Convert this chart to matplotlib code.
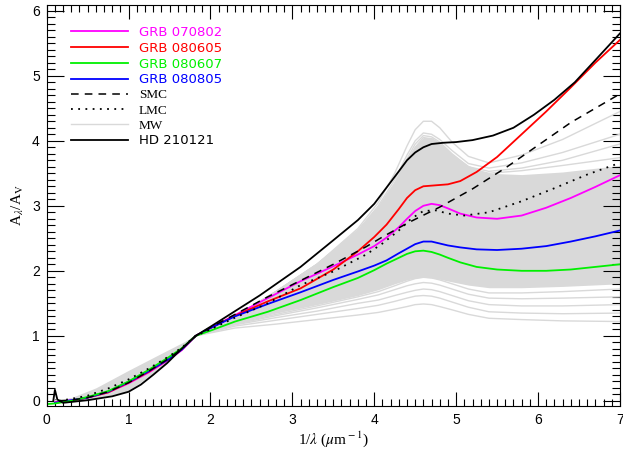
import numpy as np
import matplotlib
matplotlib.use('Agg')
import matplotlib.pyplot as plt
from matplotlib.ticker import MultipleLocator

# x grid shared by the GRB curves (1/lambda, micron^-1)
x_grb = [0.0, 0.1, 0.3, 0.5, 0.75, 1.0, 1.25, 1.5, 1.65, 1.82, 2.0, 2.3, 2.7, 3.1, 3.5, 3.8,
         4.0, 4.15, 4.3, 4.4, 4.5, 4.6, 4.7, 4.8, 4.9, 5.05, 5.25, 5.5, 5.8, 6.1, 6.4, 6.7, 7.0]
nan = np.nan
grb_070802 = [nan, -0.02, 0.01, 0.05, 0.13, 0.27, 0.44, 0.64, 0.78, 1.0, 1.12, 1.32, 1.58, 1.84,
              2.07, 2.25, 2.38, 2.51, 2.67, 2.8, 2.92, 3.0, 3.03, 3.01, 2.96, 2.88, 2.82, 2.8,
              2.85, 2.97, 3.12, 3.29, 3.47]
grb_080605 = [nan, -0.03, 0.0, 0.05, 0.13, 0.28, 0.45, 0.65, 0.79, 1.0, 1.12, 1.31, 1.53, 1.73,
              2.02, 2.3, 2.52, 2.71, 2.95, 3.12, 3.24, 3.3, 3.31, 3.32, 3.33, 3.38, 3.52, 3.75,
              4.1, 4.45, 4.82, 5.2, 5.55]
grb_080607 = [-0.05, -0.04, 0.0, 0.06, 0.15, 0.3, 0.48, 0.68, 0.81, 1.0, 1.08, 1.22, 1.37, 1.55,
              1.75, 1.89, 2.01, 2.11, 2.2, 2.26, 2.3, 2.31, 2.29, 2.25, 2.2, 2.13, 2.06, 2.02,
              2.0, 2.0, 2.02, 2.06, 2.1]
grb_080805 = [nan, -0.03, 0.01, 0.05, 0.14, 0.29, 0.46, 0.65, 0.79, 1.0, 1.12, 1.3, 1.49, 1.67,
              1.86, 1.99, 2.08, 2.16, 2.27, 2.34, 2.41, 2.45, 2.45, 2.42, 2.39, 2.36, 2.33, 2.32,
              2.34, 2.38, 2.45, 2.53, 2.62]

x_smc = [0.15, 0.3, 0.5, 0.75, 1.0, 1.25, 1.5, 1.65, 1.82, 2.0, 2.3, 2.7, 3.1, 3.5, 3.9, 4.1,
         4.4, 4.8, 5.2, 5.6, 6.0, 6.4, 7.0]
smc = [0.0, 0.01, 0.05, 0.14, 0.28, 0.46, 0.66, 0.8, 1.0, 1.13, 1.33, 1.6, 1.85, 2.1, 2.37, 2.52,
       2.73, 2.98, 3.26, 3.58, 3.93, 4.28, 4.72]

x_lmc = [0.15, 0.3, 0.5, 0.75, 1.0, 1.25, 1.5, 1.65, 1.82, 2.0, 2.3, 2.7, 3.1, 3.5, 3.9, 4.1,
         4.3, 4.45, 4.6, 4.75, 4.9, 5.1, 5.4, 5.8, 6.2, 6.6, 7.0]
lmc = [0.0, 0.03, 0.08, 0.19, 0.33, 0.5, 0.69, 0.82, 1.0, 1.1, 1.28, 1.5, 1.78, 1.99, 2.25, 2.42,
       2.62, 2.8, 2.92, 2.93, 2.88, 2.85, 2.9, 3.07, 3.27, 3.48, 3.66]

x_hd = [0.08, 0.1, 0.13, 0.2, 0.5, 0.8, 1.0, 1.15, 1.3, 1.47, 1.63, 1.82, 2.0, 2.3, 2.6, 2.85,
        3.1, 3.5, 3.8, 4.0, 4.15, 4.3, 4.4, 4.5, 4.6, 4.7, 4.85, 5.0, 5.2, 5.45, 5.7, 5.95,
        6.2, 6.45, 6.7, 7.0]
hd_210121 = [0.0, 0.17, 0.02, -0.03, 0.01, 0.07, 0.14, 0.25, 0.40, 0.58, 0.78, 1.0, 1.14, 1.38,
             1.62, 1.84, 2.06, 2.47, 2.78, 3.03, 3.28, 3.53, 3.7, 3.82, 3.9, 3.95, 3.97, 3.98,
             4.01, 4.08, 4.2, 4.4, 4.63, 4.9, 5.24, 5.65]

# Milky Way sight lines: dense band plus the outlying individual curves
x_mw = [0.1, 0.3, 0.6, 1.0, 1.4, 1.82, 2.3, 2.8, 3.3, 3.8, 4.05, 4.25, 4.4, 4.5, 4.6, 4.7,
        4.8, 4.95, 5.15, 5.4, 5.8, 6.3, 7.0]
mw_band_hi = [0.0, 0.05, 0.2, 0.47, 0.73, 1.0, 1.3, 1.7, 2.12, 2.65, 3.0, 3.38, 3.72, 3.92,
              4.05, 4.05, 3.97, 3.8, 3.62, 3.5, 3.48, 3.52, 3.62]
mw_band_lo = [-0.02, -0.02, 0.04, 0.15, 0.52, 1.0, 1.2, 1.35, 1.48, 1.62, 1.71, 1.8, 1.86,
              1.89, 1.9, 1.89, 1.87, 1.83, 1.78, 1.74, 1.74, 1.76, 1.8]
mw_left = [0.0, 0.02, 0.08, 0.3, 0.6, 1.0]
mw_curves = [
    mw_left + [1.12, 1.18, 1.25, 1.32, 1.36, 1.41, 1.45, 1.48, 1.49, 1.48, 1.45, 1.4, 1.33, 1.27, 1.25, 1.23, 1.22],
    mw_left + [1.15, 1.24, 1.33, 1.42, 1.47, 1.53, 1.58, 1.61, 1.62, 1.61, 1.58, 1.52, 1.44, 1.37, 1.35, 1.34, 1.35],
    mw_left + [1.17, 1.28, 1.38, 1.5, 1.55, 1.62, 1.67, 1.7, 1.72, 1.71, 1.68, 1.62, 1.54, 1.48, 1.46, 1.46, 1.48],
    mw_left + [1.18, 1.31, 1.43, 1.56, 1.63, 1.71, 1.77, 1.8, 1.82, 1.81, 1.78, 1.72, 1.64, 1.58, 1.57, 1.58, 1.6],
    mw_left + [1.19, 1.33, 1.46, 1.6, 1.68, 1.77, 1.84, 1.88, 1.9, 1.89, 1.86, 1.8, 1.72, 1.66, 1.66, 1.68, 1.72],
    mw_left + [1.3, 1.68, 2.1, 2.65, 3.05, 3.5, 3.92, 4.17, 4.3, 4.3, 4.2, 3.98, 3.76, 3.66, 3.78, 4.02, 4.45],
    mw_left + [1.3, 1.68, 2.1, 2.62, 3.0, 3.4, 3.78, 4.0, 4.12, 4.1, 4.02, 3.85, 3.65, 3.58, 3.66, 3.82, 4.1],
    mw_left + [1.3, 1.68, 2.1, 2.6, 2.97, 3.35, 3.72, 3.95, 4.08, 4.06, 3.98, 3.8, 3.6, 3.53, 3.58, 3.7, 3.95],
    mw_left + [1.3, 1.68, 2.1, 2.6, 2.95, 3.32, 3.68, 3.9, 4.05, 4.03, 3.95, 3.77, 3.57, 3.5, 3.54, 3.62, 3.74],
]

GREY = '#d9d9d9'
GREEN = '#00f000'

plt.rcParams['font.family'] = 'Liberation Sans'
plt.rcParams['mathtext.fontset'] = 'stix'

fig = plt.figure(figsize=(6.23, 4.55), dpi=100)
ax = fig.add_axes([0.075, 0.108, 0.920, 0.881])

ax.fill_between(x_mw, mw_band_lo, mw_band_hi, color=GREY, lw=0)
mw_lines = []
for yv in mw_curves:
    mw_lines += ax.plot(x_mw, yv, color=GREY, lw=1.0)

h_070802, = ax.plot(x_grb, grb_070802, color='magenta', lw=1.3)
h_080605, = ax.plot(x_grb, grb_080605, color='red', lw=1.3)
h_080805, = ax.plot(x_grb, grb_080805, color='blue', lw=1.3)
h_080607, = ax.plot(x_grb, grb_080607, color=GREEN, lw=1.3)
h_smc, = ax.plot(x_smc, smc, color='black', lw=1.1, dashes=(5, 4))
h_lmc, = ax.plot(x_lmc, lmc, color='black', lw=1.3, dashes=(1, 3))
h_hd, = ax.plot(x_hd, hd_210121, color='black', lw=1.3)

handles = [h_070802, h_080605, h_080607, h_080805, h_smc, h_lmc, mw_lines[0], h_hd]
labels = ['GRB 070802', 'GRB 080605', 'GRB 080607', 'GRB 080805', 'SMC', 'LMC', 'MW', 'HD 210121']
colors = ['magenta', 'red', GREEN, 'blue', 'black', 'black', 'black', 'black']
leg = ax.legend(handles, labels, loc='upper left', bbox_to_anchor=(0.042, 0.948),
                frameon=False, fontsize=9.5, handlelength=4.3, handletextpad=0.85,
                labelspacing=0.215, borderpad=0, borderaxespad=0, labelcolor=colors)
for t in leg.get_texts():
    if t.get_text() in ('SMC', 'LMC', 'MW'):
        t.set_fontfamily('Liberation Serif')
    else:
        t.set_fontfamily('DejaVu Sans')

ax.set_xlim(0, 7)
ax.set_ylim(-0.077, 6.088)
ax.xaxis.set_major_locator(MultipleLocator(1))
ax.xaxis.set_minor_locator(MultipleLocator(0.1))
ax.yaxis.set_major_locator(MultipleLocator(1))
ax.yaxis.set_minor_locator(MultipleLocator(0.1))
ax.tick_params(axis='both', which='both', direction='in', top=True, right=True,
               width=0.8, labelsize=10)
ax.tick_params(axis='x', which='major', length=10, pad=5)
ax.tick_params(axis='x', which='minor', length=5)
ax.tick_params(axis='y', which='major', length=12, pad=5)
ax.tick_params(axis='y', which='minor', length=6)
for s in ax.spines.values():
    s.set_linewidth(0.8)

ax.set_xlabel(r'1/$\lambda$ ($\mu$m$^{\rm -1}$)', fontsize=11, family='Liberation Serif', labelpad=2)
ax.set_ylabel(r'A$_\lambda$/A$_{\rm V}$', fontsize=11, family='Liberation Serif', labelpad=4)

fig.savefig('out.png', dpi=100)
